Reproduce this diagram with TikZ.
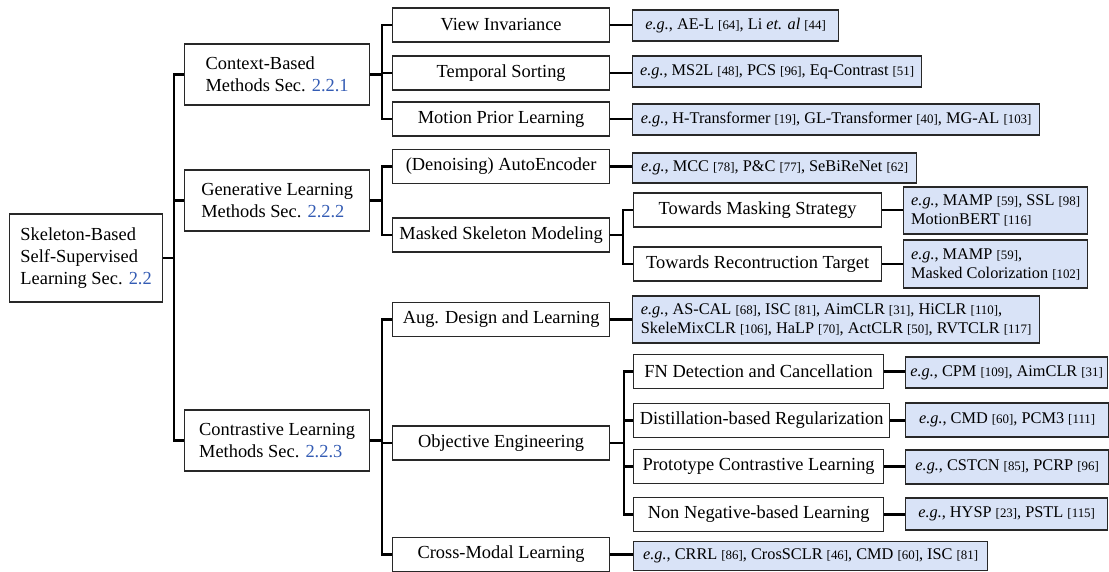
\documentclass[tikz,border=0pt]{standalone}
\usepackage{fontspec}
\setmainfont{Liberation Serif}
\definecolor{secblue}{RGB}{52,92,180}
\definecolor{egfill}{RGB}{217,227,247}
\definecolor{boxline}{RGB}{40,40,40}
\newcommand\rf[1]{{\fontsize{12.9}{15}\selectfont[#1]}}
\newcommand\egx{\textit{e.g.}, }
\newcommand\secn[1]{\textcolor{secblue}{#1}}
\tikzset{
  mainfont/.style={font=\fontsize{18.4}{22}\selectfont},
  catbox/.style={draw=boxline, line width=1.25pt, fill=white, anchor=west, inner sep=2pt, align=left, mainfont},
  lvone/.style={catbox, minimum width=185pt, minimum height=61pt},
  lvtwo/.style={catbox, align=center, minimum width=217pt, minimum height=34pt},
  egbox/.style={draw=boxline, line width=1.25pt, fill=egfill, anchor=west, inner sep=2pt, align=left,
    font=\fontsize{16.3}{19}\selectfont},
  conn/.style={draw=black, line width=2.3pt}
}
\begin{document}
\begin{tikzpicture}[x=1pt,y=1pt]
\useasboundingbox (0,0) rectangle (1109,-572);

% root
\node[catbox, minimum width=153pt, minimum height=88pt] (root) at (9,-258)
  {Skeleton-Based\\Self-Supervised\\Learning Sec. \secn{2.2}};

% level 1
\node[lvone] (ctx) at (184,-74.5) {Context-Based\\Methods Sec. \secn{2.2.1}};
\node[lvone] (gen) at (184,-200.5) {Generative Learning\\Methods Sec. \secn{2.2.2}};
\node[lvone] (con) at (184,-440.5) {Contrastive Learning\\Methods Sec. \secn{2.2.3}};

% level 2
\node[lvtwo] (vi)  at (392,-25)    {View Invariance};
\node[lvtwo] (ts)  at (392,-73)    {Temporal Sorting};
\node[lvtwo] (mp)  at (392,-119)   {Motion Prior Learning};
\node[lvtwo] (ae)  at (392,-166.5) {(Denoising) AutoEncoder};
\node[lvtwo] (msm) at (392,-235)   {Masked Skeleton Modeling};
\node[lvtwo] (aug) at (392,-319.5) {Aug. Design and Learning};
\node[lvtwo] (obj) at (392,-443)   {Objective Engineering};
\node[lvtwo] (cml) at (392,-554.5) {Cross-Modal Learning};

% level 3
\node[lvtwo, minimum width=248pt] (tms) at (633,-210) {Towards Masking Strategy};
\node[lvtwo, minimum width=248pt] (trt) at (633,-264) {Towards Recontruction Target};
\node[lvtwo, minimum width=250pt] (fn)    at (633,-371.5) {FN Detection and Cancellation};
\node[lvtwo, minimum width=256pt, inner sep=1pt] (dist)  at (633,-420.5) {Distillation-based Regularization};
\node[lvtwo, minimum width=250pt] (proto) at (633,-466.5) {Prototype Contrastive Learning};
\node[lvtwo, minimum width=250pt] (nn)    at (633,-514.5) {Non Negative-based Learning};

% example boxes
\node[egbox, minimum width=206pt, minimum height=31pt] (vie) at (632,-25.5)
  {\egx AE-L \rf{64}, Li \textit{et. al} \rf{44}};
\node[egbox, minimum width=289pt, minimum height=31pt] (tse) at (632,-71.5)
  {\egx MS2L \rf{48}, PCS \rf{96}, Eq-Contrast \rf{51}};
\node[egbox, minimum width=407pt, minimum height=31pt] (mpe) at (632,-119.5)
  {\egx H-Transformer \rf{19}, GL-Transformer \rf{40}, MG-AL \rf{103}};
\node[egbox, minimum width=284pt, minimum height=30pt] (aee) at (632,-168)
  {\egx MCC \rf{78}, P\&C \rf{77}, SeBiReNet \rf{62}};
\node[egbox, minimum width=184pt, minimum height=47pt] (tmse) at (903,-210.5)
  {\egx MAMP \rf{59}, SSL \rf{98}\\MotionBERT \rf{116}};
\node[egbox, minimum width=184pt, minimum height=48pt] (trte) at (903,-264)
  {\egx MAMP \rf{59},\\Masked Colorization \rf{102}};
\node[egbox, minimum width=407pt, minimum height=47pt] (auge) at (632,-319.5)
  {\egx AS-CAL \rf{68}, ISC \rf{81}, AimCLR \rf{31}, HiCLR \rf{110},\\SkeleMixCLR \rf{106}, HaLP \rf{70}, ActCLR \rf{50}, RVTCLR \rf{117}};
\node[egbox, minimum width=202pt, minimum height=31pt] (fne) at (905,-372.5)
  {\egx CPM \rf{109}, AimCLR \rf{31}};
\node[egbox, minimum width=203pt, minimum height=34pt] (diste) at (905,-420)
  {\egx CMD \rf{60}, PCM3 \rf{111}};
\node[egbox, minimum width=203pt, minimum height=34pt] (protoe) at (905,-467)
  {\egx CSTCN \rf{85}, PCRP \rf{96}};
\node[egbox, minimum width=202pt, minimum height=32pt] (nne) at (905,-514)
  {\egx HYSP \rf{23}, PSTL \rf{115}};
\node[egbox, minimum width=354pt, minimum height=29pt] (cmle) at (633,-556)
  {\egx CRRL \rf{86}, CrosSCLR \rf{46}, CMD \rf{60}, ISC \rf{81}};

% root -> level 1
\foreach \c in {ctx,gen,con}
  \draw[conn] (root.east) -- ++(11,0) |- (\c.west);
% level 1 -> level 2
\foreach \c in {vi,ts,mp}
  \draw[conn] (ctx.east) -- ++(12,0) |- (\c.west);
\foreach \c in {ae,msm}
  \draw[conn] (gen.east) -- ++(12,0) |- (\c.west);
\foreach \c in {aug,obj,cml}
  \draw[conn] (con.east) -- ++(12,0) |- (\c.west);
% level 2 -> level 3
\foreach \c in {tms,trt}
  \draw[conn] (msm.east) -- ++(13,0) |- (\c.west);
\foreach \c in {fn,dist,proto,nn}
  \draw[conn] (obj.east) -- ++(14,0) |- (\c.west);
% to examples
\foreach \a/\b in {vi/vie,ts/tse,mp/mpe,ae/aee,tms/tmse,trt/trte,aug/auge,fn/fne,dist/diste,proto/protoe,nn/nne,cml/cmle}
  \draw[conn] (\a.east) -- (\a.east -| \b.west);
\end{tikzpicture}
\end{document}
